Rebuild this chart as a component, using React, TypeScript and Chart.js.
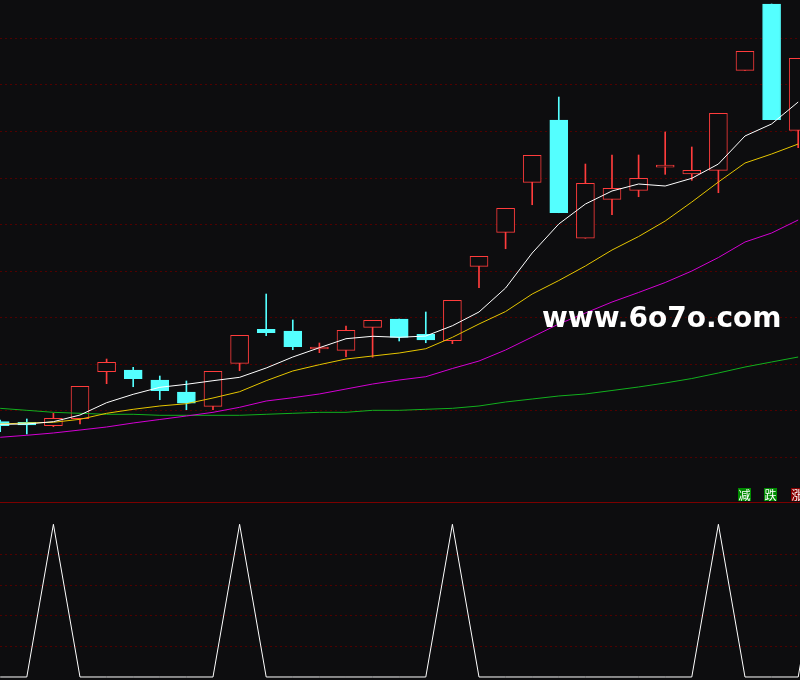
import React, { useEffect, useRef } from 'react';
import Chart from 'chart.js/auto';

const BG = '#0d0d0f';
const UP = '#ff3c3c';
const DOWN = '#54ffff';
const GRID = '#500000';

// daily candles, one entry per session
const opens = [1.768, 1.755, 1.682, 1.832, 2.842, 2.878, 2.663, 2.405, 2.098, 3.022, 3.752, 3.716, 3.329, 3.301, 3.795, 3.973, 3.645, 3.507, 5.105, 5.835, 6.909, 8.247, 5.707, 6.544, 6.737, 7.235, 7.088, 7.167, 9.315, 10.739, 8.026];
const highs = [1.804, 1.826, 1.948, 2.528, 3.114, 2.936, 2.749, 2.642, 2.850, 3.623, 4.510, 3.952, 3.458, 3.823, 3.945, 3.973, 4.124, 4.375, 5.320, 6.351, 7.489, 8.741, 7.302, 7.496, 7.496, 7.990, 7.668, 8.391, 9.723, 10.739, 9.573];
const lows = [1.553, 1.503, 1.660, 1.718, 2.584, 2.519, 2.240, 2.025, 2.025, 2.863, 3.615, 3.314, 3.250, 3.164, 3.151, 3.501, 3.464, 3.443, 4.646, 5.483, 6.428, 6.256, 5.707, 6.213, 6.600, 7.081, 6.952, 6.686, 9.315, 8.254, 7.653];
const closes = [1.682, 1.697, 1.841, 2.528, 3.043, 2.691, 2.433, 2.163, 2.850, 3.623, 3.679, 3.378, 3.372, 3.731, 3.945, 3.580, 3.522, 4.375, 5.320, 6.351, 7.489, 6.256, 6.888, 6.780, 6.995, 7.250, 7.167, 8.391, 9.723, 8.254, 9.573];

// moving averages
const ma5 = [1.712, 1.718, 1.768, 1.911, 2.176, 2.356, 2.506, 2.571, 2.648, 2.721, 2.921, 3.157, 3.357, 3.550, 3.602, 3.580, 3.608, 3.829, 4.124, 4.639, 5.391, 6.014, 6.443, 6.723, 6.873, 6.830, 6.995, 7.302, 7.904, 8.162, 8.634];
const ma10 = [1.718, 1.740, 1.755, 1.819, 1.948, 2.034, 2.105, 2.154, 2.277, 2.412, 2.648, 2.857, 2.992, 3.114, 3.179, 3.243, 3.335, 3.580, 3.866, 4.134, 4.510, 4.800, 5.112, 5.455, 5.745, 6.078, 6.486, 6.916, 7.324, 7.517, 7.732];
const ma20 = [1.433, 1.476, 1.525, 1.589, 1.654, 1.740, 1.815, 1.890, 1.969, 2.077, 2.212, 2.283, 2.363, 2.470, 2.577, 2.663, 2.734, 2.910, 3.071, 3.308, 3.587, 3.866, 4.102, 4.338, 4.543, 4.757, 5.004, 5.294, 5.627, 5.820, 6.100];
const ma60 = [2.055, 2.012, 1.969, 1.948, 1.927, 1.927, 1.905, 1.905, 1.905, 1.905, 1.927, 1.948, 1.969, 1.969, 2.012, 2.012, 2.034, 2.055, 2.105, 2.191, 2.255, 2.320, 2.363, 2.438, 2.513, 2.599, 2.695, 2.814, 2.942, 3.050, 3.157];

// lower indicator, last point sits just past the right edge
const signal = [0, 0, 100, 0, 0, 0, 0, 0, 0, 100, 0, 0, 0, 0, 0, 0, 0, 100, 0, 0, 0, 0, 0, 0, 0, 0, 0, 100, 0, 0, 0, 100];

const priceGrid = [1, 2, 3, 4, 5, 6, 7, 8, 9, 10];
const signalGrid = [20, 40, 60, 80];
const tagLabels = ['减', '跌', '涨'];
const watermark = 'www.6o7o.com';

const X_MIN = -0.0075;
const X_MAX = 30.068;

const isUp = (i: number) => closes[i] >= opens[i];

const xAxis = { type: 'linear' as const, min: X_MIN, max: X_MAX, display: false, offset: false };

const PriceChart: React.FC = () => {
  const ref = useRef<HTMLCanvasElement>(null);

  useEffect(() => {
    if (!ref.current) return;
    const idx = opens.map((_, i) => i);
    const line = (vals: number[], color: string) => ({
      type: 'line' as const,
      data: vals.map((y, x) => ({ x, y })),
      borderColor: color,
      borderWidth: 1,
      pointRadius: 0,
      tension: 0,
      order: 0,
    });

    const chart = new Chart(ref.current, {
      type: 'bar',
      data: {
        datasets: [
          line(ma5, '#ffffff'),
          line(ma10, '#e6c600'),
          line(ma20, '#d400d4'),
          line(ma60, '#12b01e'),
          {
            type: 'bar',
            data: idx.map((i) => ({ x: i, y: [opens[i], closes[i]] })) as any,
            barThickness: 18,
            minBarLength: 2,
            grouped: false,
            borderWidth: 1,
            borderSkipped: false,
            borderColor: (c: any) => (isUp(c.dataIndex) ? UP : DOWN),
            backgroundColor: (c: any) => (isUp(c.dataIndex) ? BG : DOWN),
            order: 1,
          },
          {
            type: 'bar',
            data: idx.map((i) => ({ x: i, y: [lows[i], highs[i]] })) as any,
            barThickness: 1,
            grouped: false,
            borderWidth: 0,
            backgroundColor: (c: any) => (isUp(c.dataIndex) ? UP : DOWN),
            order: 2,
          },
        ],
      },
      options: {
        animation: false,
        responsive: false,
        events: [],
        layout: { padding: 0 },
        plugins: { legend: { display: false }, tooltip: { enabled: false } },
        scales: {
          x: xAxis,
          y: {
            type: 'linear',
            min: 0.043,
            max: 10.825,
            ticks: { display: false },
            grid: { color: GRID, drawTicks: false, lineWidth: 1 },
            border: { display: false, dash: [2, 3] },
            afterBuildTicks: (axis: any) => {
              axis.ticks = priceGrid.map((value) => ({ value }));
            },
          },
        },
      },
    });
    return () => chart.destroy();
  }, []);

  return <canvas ref={ref} width={800} height={502} style={{ position: 'absolute', left: 0, top: 0 }} />;
};

const SignalChart: React.FC = () => {
  const ref = useRef<HTMLCanvasElement>(null);

  useEffect(() => {
    if (!ref.current) return;
    const chart = new Chart(ref.current, {
      type: 'line',
      data: {
        datasets: [
          {
            data: signal.map((y, x) => ({ x, y })),
            borderColor: '#ffffff',
            borderWidth: 1,
            pointRadius: 0,
            tension: 0,
          },
        ],
      },
      options: {
        animation: false,
        responsive: false,
        events: [],
        layout: { padding: 0 },
        plugins: { legend: { display: false }, tooltip: { enabled: false } },
        scales: {
          x: xAxis,
          y: {
            type: 'linear',
            min: -1.965,
            max: 113.95,
            ticks: { display: false },
            grid: { color: GRID, drawTicks: false, lineWidth: 1 },
            border: { display: false, dash: [2, 3] },
            afterBuildTicks: (axis: any) => {
              axis.ticks = signalGrid.map((value) => ({ value }));
            },
          },
        },
      },
    });
    return () => chart.destroy();
  }, []);

  return <canvas ref={ref} width={800} height={177} style={{ position: 'absolute', left: 0, top: 503 }} />;
};

const tagColors = ['#008a00', '#008a00', '#8a0000'];
const tagLeft = [738, 764, 791];

export default function App() {
  return (
    <div style={{ position: 'relative', width: 800, height: 680, background: BG, overflow: 'hidden' }}>
      <style>{`body{margin:0;background:${BG};overflow:hidden}`}</style>
      <PriceChart />
      <div style={{ position: 'absolute', left: 0, top: 502, width: 800, height: 1, background: '#7a0000' }} />
      <div
        style={{
          position: 'absolute',
          left: 542,
          top: 304,
          fontFamily: '"DejaVu Sans", sans-serif',
          fontWeight: 'bold',
          fontSize: 28,
          lineHeight: 1,
          color: '#ffffff',
          whiteSpace: 'nowrap',
        }}
      >
        {watermark}
      </div>
      {tagLabels.map((t, i) => (
        <span
          key={t}
          style={{
            position: 'absolute',
            left: tagLeft[i],
            top: 488,
            width: 13,
            height: 13,
            background: tagColors[i],
            color: '#ffffff',
            fontFamily: '"Noto Sans CJK SC", sans-serif',
            fontSize: 12,
            lineHeight: '13px',
            textAlign: 'center',
          }}
        >
          {t}
        </span>
      ))}
      <SignalChart />
    </div>
  );
}
